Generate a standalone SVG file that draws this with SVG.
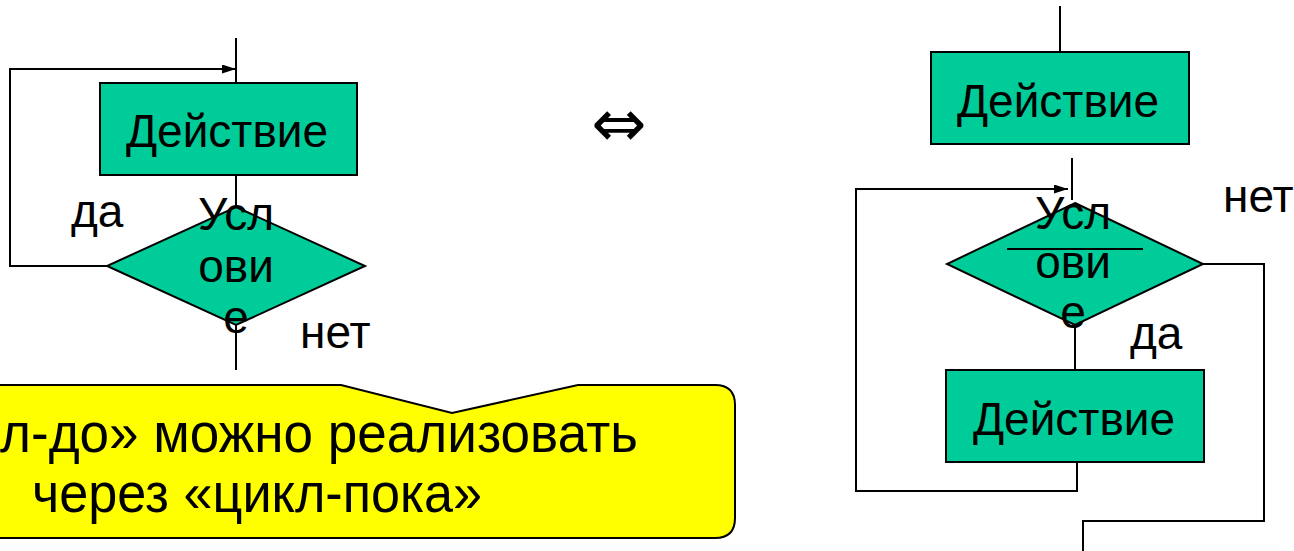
<svg xmlns="http://www.w3.org/2000/svg" width="1294" height="551" viewBox="0 0 1294 551">
<style>
.shape{fill:#00CC99;stroke:#000;stroke-width:2}
.ln{fill:none;stroke:#000;stroke-width:2}
.t{font-family:"Liberation Sans",Arial,sans-serif;font-size:46px;fill:#000}
.big{font-family:"Liberation Sans",Arial,sans-serif;font-size:56px;fill:#000}
.c{text-anchor:middle}
</style>
<defs>
<marker id="ah" markerWidth="14" markerHeight="9" refX="14" refY="4.5" orient="auto" markerUnits="userSpaceOnUse">
<path d="M0,0 L14,4.5 L0,9 Z" fill="#000"/>
</marker>
</defs>
<rect width="1294" height="551" fill="#fff"/>
<g id="connectors">
<line class="ln" x1="236" y1="38" x2="236" y2="83"/>
<line class="ln" x1="236" y1="175" x2="236" y2="207"/>
<line class="ln" x1="236" y1="323" x2="236" y2="370"/>
<polyline class="ln" points="107,266 10,266 10,69 236,69" marker-end="url(#ah)"/>
<line class="ln" x1="1060" y1="6" x2="1060" y2="52"/>
<line class="ln" x1="1072" y1="158" x2="1072" y2="200"/>
<polyline class="ln" points="1077,462 1077,491 856,491 856,189 1068,189" marker-end="url(#ah)"/>
<line class="ln" x1="1075" y1="325" x2="1075" y2="370"/>
<polyline class="ln" points="1203,264 1264,264 1264,521 1083,521 1083,551"/>
</g>
<g id="action-left">
<rect class="shape" x="100" y="83" width="257" height="92"/>
<text class="t c" x="227" y="147">Действие</text>
</g>
<g id="cond-left">
<polygon class="shape" points="236,207 365,266 236,325 107,266"/>
<text class="t c" x="236" y="230">Усл</text>
<text class="t c" x="236" y="282">ови</text>
<text class="t c" x="236" y="333">е</text>
</g>
<g id="labels-left">
<text class="t" x="71" y="227">да</text>
<text class="t" x="300" y="348">нет</text>
</g>
<g id="equiv">
<text x="619" y="146" text-anchor="middle" font-family="DejaVu Sans, sans-serif" font-size="66">⇔</text>
</g>
<g id="callout">
<path d="M-20,385 L341,385 L452,413 L578,385 L715,385 Q735,385 735,405 L735,518 Q735,538 715,538 L-20,538 Z" fill="#FFFF00" stroke="#000" stroke-width="2"/>
<text class="big" x="0" y="452" textLength="638" lengthAdjust="spacingAndGlyphs">л-до» можно реализовать</text>
<text class="big" x="32" y="512" textLength="450" lengthAdjust="spacingAndGlyphs">через «цикл-пока»</text>
</g>
<g id="action-right-top">
<rect class="shape" x="931" y="52" width="258" height="92"/>
<text class="t c" x="1058" y="117">Действие</text>
</g>
<g id="cond-right">
<polygon class="shape" points="1075,203 1203,264 1075,325 947,264"/>
<line class="ln" x1="1007" y1="249" x2="1143" y2="249"/>
<text class="t c" x="1073" y="229">Усл</text>
<text class="t c" x="1073" y="278">ови</text>
<text class="t c" x="1073" y="328">е</text>
</g>
<g id="action-right-bottom">
<rect class="shape" x="946" y="370" width="258" height="92"/>
<text class="t c" x="1074" y="435">Действие</text>
</g>
<g id="labels-right">
<text class="t" x="1130" y="349">да</text>
<text class="t" x="1223" y="212">нет</text>
</g>
</svg>
